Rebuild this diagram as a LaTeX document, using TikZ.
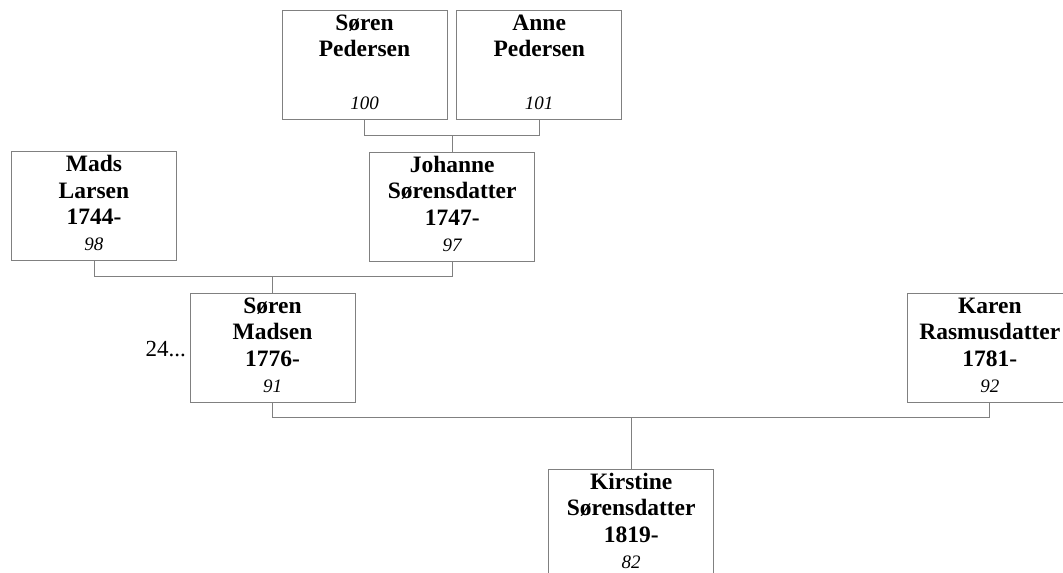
\documentclass[tikz,border=0pt]{standalone}
\usepackage{fontspec}
\setmainfont{Liberation Serif}
\usetikzlibrary{calc}
\definecolor{linegray}{RGB}{128,128,128}
\newcommand\pinfo[4]{\parbox[t][109pt][t]{165pt}{\centering\fontsize{23.5}{26.5}\selectfont\bfseries\rule{0pt}{20pt}#1\\\mbox{}#2\\\mbox{}#3\\[-0.5pt]\mbox{}{\fontsize{19}{20}\selectfont\mdseries\itshape #4}}}
\tikzset{
  pbox/.style={draw=linegray, line width=1pt, inner sep=0pt, outer sep=0pt, anchor=north west},
  conn/.style={draw=linegray, line width=1pt},
}
\begin{document}
\begin{tikzpicture}[x=1pt,y=-1pt]
\useasboundingbox (0,0) rectangle (1063,573);
\clip (0,0) rectangle (1063,573);
\node[pbox] (SP) at (282,10) {\pinfo{Søren}{Pedersen}{}{100}};
\node[pbox] (AP) at (456.7,10) {\pinfo{Anne}{Pedersen}{}{101}};
\node[pbox] (ML) at (11.5,151.7) {\pinfo{Mads}{Larsen}{1744-}{98}};
\node[pbox] (JS) at (369.7,152) {\pinfo{Johanne}{Sørensdatter}{1747-}{97}};
\node[pbox] (SM) at (190,293.3) {\pinfo{Søren}{Madsen}{1776-}{91}};
\node[pbox] (KR) at (907.3,293.3) {\pinfo{Karen}{Rasmusdatter}{1781-}{92}};
\node[pbox] (KS) at (548.7,469.3) {\pinfo{Kirstine}{Sørensdatter}{1819-}{82}};
\node[anchor=base east, inner sep=0pt, font=\fontsize{23}{26}\selectfont] (more) at (186,356) {24...};
% connectors
\draw[conn] (SP.south) -- ++(0,16) -| (AP.south);
\coordinate (m1) at ($(SP.south)!0.5!(AP.south)+(0,16)$);
\draw[conn] (JS.north) -- (JS.north |- m1);
\draw[conn] (ML.south) -- ++(0,16) -| (JS.south);
\coordinate (m2) at ($(ML.south)!0.5!(JS.south)+(0,16)$);
\draw[conn] (SM.north) -- (SM.north |- m2);
\draw[conn] (SM.south) -- ++(0,15.5) -| (KR.south);
\coordinate (m3) at ($(SM.south)!0.5!(KR.south)+(0,15.5)$);
\draw[conn] (KS.north) -- (KS.north |- m3);
\end{tikzpicture}
\end{document}
